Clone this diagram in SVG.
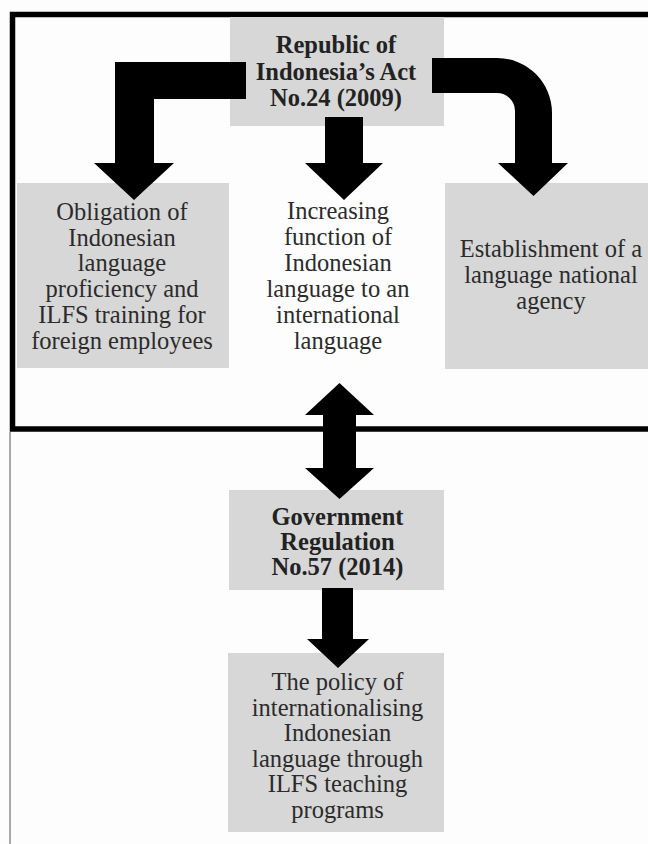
<svg xmlns="http://www.w3.org/2000/svg" width="648" height="844" viewBox="0 0 648 844">
<style>
.box{fill:#d7d7d7}
.arrow{fill:#000}
.t{font-family:"Liberation Serif","Times New Roman",serif;font-size:24.5px;fill:#2b2b2b;text-anchor:middle}
.b{font-weight:bold;fill:#222}
</style>
<rect x="0" y="0" width="648" height="844" fill="#fdfdfd"/>
<line x1="10" y1="432" x2="10" y2="844" stroke="#aaaaaa" stroke-width="2"/>
<g id="frame">
<rect x="12.5" y="14.5" width="700" height="414.5" fill="none" stroke="#000" stroke-width="5.5"/>
</g>
<g id="node-act">
<rect class="box" x="230" y="17" width="214" height="109"/>
<text class="t b"><tspan x="336" y="53">Republic of</tspan><tspan x="336" y="79.5">Indonesia’s Act</tspan><tspan x="336" y="106">No.24 (2009)</tspan></text>
</g>
<g id="node-obligation">
<rect class="box" x="17" y="183" width="212" height="185"/>
<text class="t"><tspan x="122" y="220">Obligation of</tspan><tspan x="122" y="245.5">Indonesian</tspan><tspan x="122" y="271">language</tspan><tspan x="122" y="297">proficiency and</tspan><tspan x="122" y="323">ILFS training for</tspan><tspan x="122" y="349">foreign employees</tspan></text>
</g>
<g id="node-function">
<text class="t"><tspan x="338" y="219">Increasing</tspan><tspan x="338" y="245">function of</tspan><tspan x="338" y="271">Indonesian</tspan><tspan x="338" y="297">language to an</tspan><tspan x="338" y="323">international</tspan><tspan x="338" y="349">language</tspan></text>
</g>
<g id="node-agency">
<rect class="box" x="445" y="183" width="210" height="186"/>
<text class="t"><tspan x="551" y="257">Establishment of a</tspan><tspan x="551" y="283">language national</tspan><tspan x="551" y="309">agency</tspan></text>
</g>
<g id="node-regulation">
<rect class="box" x="229" y="490" width="215" height="100"/>
<text class="t b"><tspan x="337.5" y="525">Government</tspan><tspan x="337.5" y="550">Regulation</tspan><tspan x="337.5" y="575">No.57 (2014)</tspan></text>
</g>
<g id="node-policy">
<rect class="box" x="228" y="653" width="216" height="179"/>
<text class="t"><tspan x="337.5" y="690">The policy of</tspan><tspan x="337.5" y="715.5">internationalising</tspan><tspan x="337.5" y="741">Indonesian</tspan><tspan x="337.5" y="766.5">language through</tspan><tspan x="337.5" y="792">ILFS teaching</tspan><tspan x="337.5" y="817.5">programs</tspan></text>
</g>
<g id="connectors">
<polygon class="arrow" points="246,62 115,62 115,163 94,163 134,200 174,163 154,163 154,99 246,99"/>
<polygon class="arrow" points="325,117 363,117 363,163 383,163 344,200 305,163 325,163"/>
<path class="arrow" d="M432,58 H497 A55,55 0 0 1 552,113 V163 H568 L533.5,196 L498,163 H515 V111 A18,18 0 0 0 497,93 H432 Z"/>
<polygon class="arrow" points="339.5,383 374,415 356,415 356,468 374,468 339.5,499 305,468 323,468 323,415 305,415"/>
<polygon class="arrow" points="322,588 353,588 353,639 369,639 338,668 307,639 322,639"/>
</g>
</svg>
